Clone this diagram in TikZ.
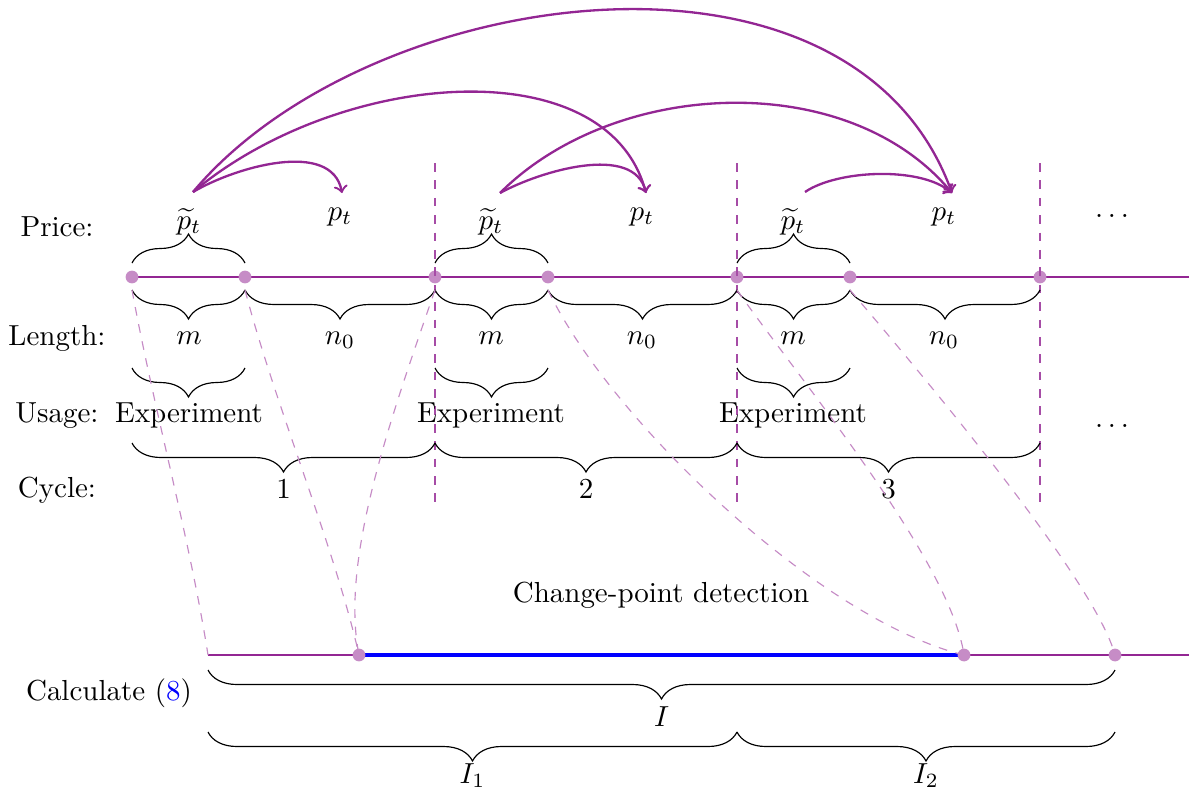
\documentclass[tikz,border=0pt]{standalone}
\usetikzlibrary{decorations.pathreplacing}
\definecolor{vio}{RGB}{128,0,128}
\begin{document}
\begin{tikzpicture}[x=0.345pt,y=-0.345pt,
  brc/.style={decorate,decoration={brace,amplitude=10pt}},
  brcm/.style={decorate,decoration={brace,amplitude=10pt,mirror}},
  dot/.style={circle,fill=vio!45,inner sep=0pt,minimum size=4.4pt},
  lab/.style={anchor=base,inner sep=0pt},
  arcs/.style={vio!85,thick,->},
  link/.style={vio!45,dashed,thin},
  sep/.style={vio!70,dashed},
]
\useasboundingbox (0,0) rectangle (1189,794);

% coordinates of the timeline
\coordinate (tend) at (1189,277);
\coordinate (bend) at (1189,655);
\coordinate (b0) at (208,655);

% timelines
\draw[vio!85,semithick] (132,277) coordinate (tl0) -- (tend);
\draw[vio!85,semithick] (b0) -- (bend);
\draw[blue,line width=1.1pt] (359,655) coordinate (bl1) -- (964,655) coordinate (bl2);

% dots
\foreach \x/\n in {132/t0,245/t1,435/t2,548/t3,737/t4,850/t5,1040/t6}
  \node[dot] (\n) at (\x,277) {};
\foreach \x/\n in {359/b1,964/b2,1115/b3}
  \node[dot] (\n) at (\x,655) {};

% dashed cycle separators
\foreach \x/\n in {435/s1,737/s2,1040/s3}{
  \coordinate (\n a) at (\x,163);
  \coordinate (\n b) at (\x,505);
  \draw[sep] (\n a) -- (\n b);
}

% left labels
\node[lab] (lprice) at (57,236) {Price:};
\node[lab] (llength) at (57,345) {Length:};
\node[lab] (lusage) at (57,422) {Usage:};
\node[lab] (lcycle) at (57,497) {Cycle:};
\node[lab] (lcalc) at (109,700) {Calculate (\textcolor{blue}{8})};

% price labels
\node[lab] (pt1) at (189,229) {$\widetilde{p}_t$};
\node[lab] (p1) at (340,220) {$p_t$};
\node[lab] (pt2) at (491,229) {$\widetilde{p}_t$};
\node[lab] (p2) at (642,220) {$p_t$};
\node[lab] (pt3) at (793,229) {$\widetilde{p}_t$};
\node[lab] (p3) at (944,220) {$p_t$};
\node[lab] (dots1) at (1112,217) {$\ldots$};
\node[lab] (dots2) at (1112,427) {$\ldots$};

% upper braces
\draw[brc] (132,263) -- (245,263);
\draw[brc] (435,263) -- (548,263);
\draw[brc] (737,263) -- (850,263);

% length braces
\draw[brcm] (132,290) -- (245,290);
\draw[brcm] (245,290) -- (435,290);
\draw[brcm] (435,290) -- (548,290);
\draw[brcm] (548,290) -- (737,290);
\draw[brcm] (737,290) -- (850,290);
\draw[brcm] (850,290) -- (1040,290);
\node[lab] (lm1) at (189,344) {$m$};
\node[lab] (ln1) at (340,344) {$n_0$};
\node[lab] (lm2) at (491,344) {$m$};
\node[lab] (ln2) at (642,344) {$n_0$};
\node[lab] (lm3) at (793,344) {$m$};
\node[lab] (ln3) at (944,344) {$n_0$};

% usage braces
\draw[brcm] (132,368) -- (245,368);
\draw[brcm] (435,368) -- (548,368);
\draw[brcm] (737,368) -- (850,368);
\node[lab] (ex1) at (189,422) {Experiment};
\node[lab] (ex2) at (491,422) {Experiment};
\node[lab] (ex3) at (793,422) {Experiment};

% cycle braces
\draw[brcm] (132,443) -- (435,443);
\draw[brcm] (435,443) -- (737,443);
\draw[brcm] (737,443) -- (1040,443);
\node[lab] (c1) at (283.5,498) {1};
\node[lab] (c2) at (586,498) {2};
\node[lab] (c3) at (888.5,498) {3};

% bottom braces
\draw[brcm] (208,670) -- (1115,670);
\draw[brcm] (208,732) -- (737,732);
\draw[brcm] (737,732) -- (1115,732);
\node[lab] (lI) at (661.5,726) {$I$};
\node[lab] (lI1) at (472.5,783) {$I_1$};
\node[lab] (lI2) at (926,783) {$I_2$};

\node[lab] (cpd) at (661,602) {Change-point detection};

% dashed links
\coordinate (u0) at (132,290);
\coordinate (u1) at (245,290);
\coordinate (u2) at (435,290);
\coordinate (u3) at (548,290);
\coordinate (u4) at (737,290);
\coordinate (u5) at (850,290);
\draw[link] (u0) .. controls +(22,120) and +(-18,-115) .. (b0);
\draw[link] (u1) .. controls +(30,115) and +(-25,-110) .. (b1.center);
\draw[link] (u2) .. controls +(-45,130) and +(-19,-95) .. (b1.center);
\draw[link] (u3) .. controls +(62,130) and +(-144,-35) .. (b2.center);
\draw[link] (u4) .. controls +(63,90) and +(-14,-95) .. (b2.center);
\draw[link] (u5) .. controls +(70,82) and +(-20,-75) .. (b3.center);

% arcs
\coordinate (a1) at (193,192);
\coordinate (a2) at (500,193);
\coordinate (a3) at (805,192);
\coordinate (e1) at (342,193);
\coordinate (e2) at (646,193);
\coordinate (e3) at (952,193);
\draw[arcs] (a1) .. controls +(42,-25) and +(-10,-54) .. (e1);
\draw[arcs] (a1) .. controls +(147,-123) and +(-39,-145) .. (e2);
\draw[arcs] (a1) .. controls +(174,-208) and +(-101,-278) .. (e3);
\draw[arcs] (a2) .. controls +(40,-22) and +(-12,-50) .. (e2);
\draw[arcs] (a2) .. controls +(115,-115) and +(-104,-125) .. (e3);
\draw[arcs] (a3) .. controls +(32,-22) and +(-32,-27) .. (e3);
\end{tikzpicture}
\end{document}
